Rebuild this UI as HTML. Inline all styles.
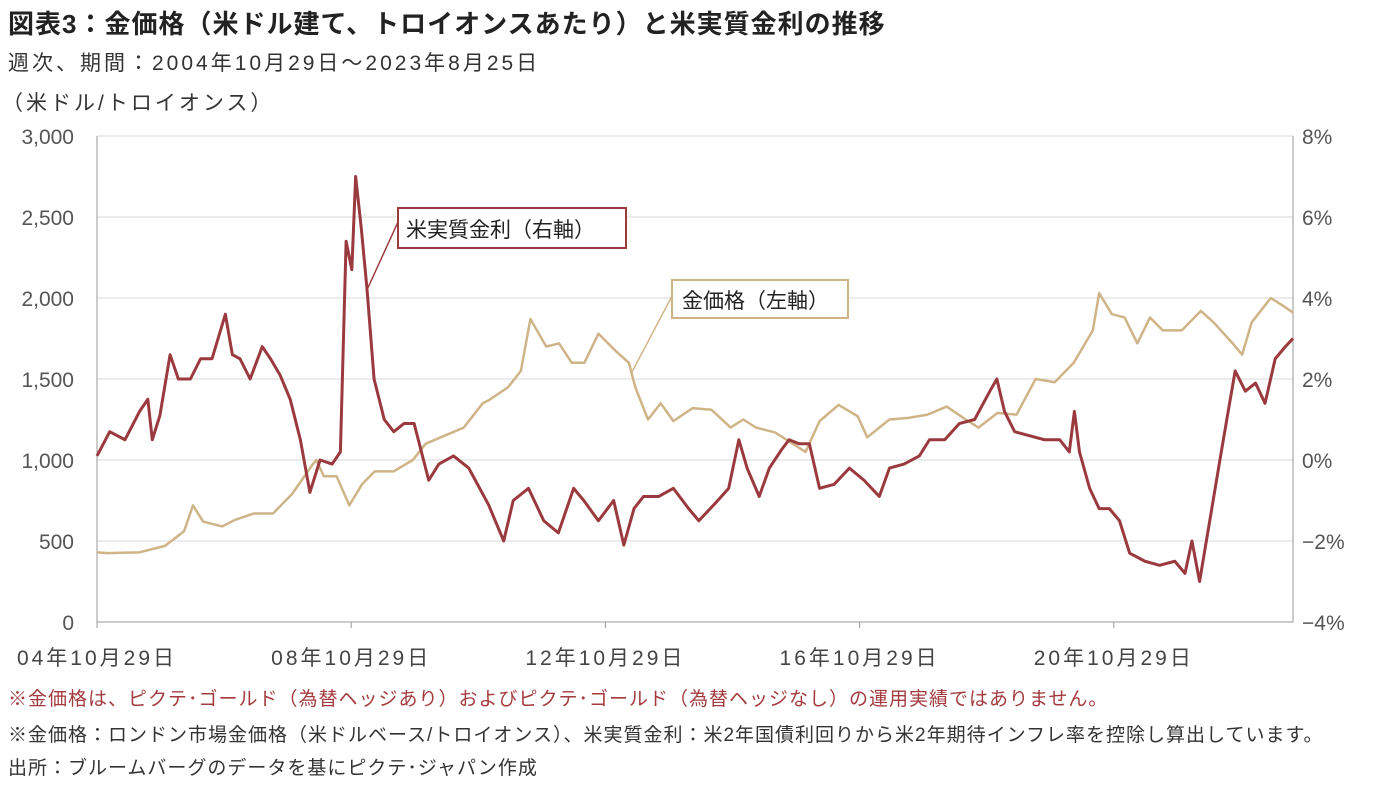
<!DOCTYPE html>
<html><head><meta charset="utf-8"><style>
body{margin:0;background:#fff;font-family:"Liberation Sans","Noto Sans CJK JP",sans-serif;}
#wrap{position:relative;width:1399px;height:790px;overflow:hidden}
.t{position:absolute;white-space:nowrap;color:#333}
</style></head><body><div id="wrap">
<div class="t" style="left:8px;top:4px;font-size:26px;letter-spacing:1px;font-weight:bold;color:#222">図表3：金価格（米ドル建て、トロイオンスあたり）と米実質金利の推移</div>
<div class="t" style="left:8px;top:47px;font-size:21px;letter-spacing:3px">週次、期間：2004年10月29日～2023年8月25日</div>
<div class="t" style="left:2px;top:87px;font-size:21px;letter-spacing:3px">（米ドル/トロイオンス）</div>
<svg id="c" width="1399" height="790" style="position:absolute;left:0;top:0"></svg>
<div class="t" style="left:8px;top:684px;font-size:19px;letter-spacing:1px;color:#a33b3e">※金価格は、ピクテ･ゴールド（為替ヘッジあり）およびピクテ･ゴールド（為替ヘッジなし）の運用実績ではありません。</div>
<div class="t" style="left:8px;top:720px;font-size:19px;letter-spacing:1px">※金価格：ロンドン市場金価格（米ドルベース/トロイオンス）、米実質金利：米2年国債利回りから米2年期待インフレ率を控除し算出しています。</div>
<div class="t" style="left:8px;top:753px;font-size:19px;letter-spacing:1px">出所：ブルームバーグのデータを基にピクテ･ジャパン作成</div>
</div>
<script>
const goldDates=[2004.83,2005.0,2005.5,2005.9,2006.2,2006.34,2006.5,2006.8,2007.0,2007.3,2007.6,2007.9,2008.2,2008.28,2008.4,2008.6,2008.8,2009.0,2009.2,2009.5,2009.8,2010.0,2010.3,2010.6,2010.9,2011.0,2011.3,2011.5,2011.65,2011.9,2012.1,2012.3,2012.5,2012.72,2013.0,2013.2,2013.3,2013.5,2013.7,2013.9,2014.2,2014.5,2014.8,2015.0,2015.2,2015.5,2015.98,2016.2,2016.5,2016.8,2016.95,2017.3,2017.6,2017.9,2018.2,2018.5,2018.7,2019.0,2019.3,2019.6,2019.9,2020.2,2020.5,2020.6,2020.8,2021.0,2021.2,2021.4,2021.6,2021.9,2022.2,2022.4,2022.7,2022.85,2023.0,2023.3,2023.5,2023.65];
const goldValues=[430,425,430,470,560,720,620,590,630,670,670,790,960,1000,900,900,720,850,930,930,1000,1100,1150,1200,1350,1370,1450,1550,1870,1700,1720,1600,1600,1780,1670,1600,1450,1250,1350,1240,1320,1310,1200,1250,1200,1170,1050,1240,1340,1270,1140,1250,1260,1280,1330,1250,1200,1290,1280,1500,1480,1600,1800,2030,1900,1880,1720,1880,1800,1800,1920,1850,1720,1650,1850,2000,1950,1910];
const rateDates=[2004.83,2005.03,2005.27,2005.5,2005.63,2005.7,2005.82,2005.98,2006.11,2006.3,2006.46,2006.64,2006.85,2006.96,2007.08,2007.24,2007.43,2007.56,2007.71,2007.87,2008.03,2008.18,2008.34,2008.53,2008.66,2008.75,2008.84,2008.9,2008.99,2009.08,2009.19,2009.35,2009.5,2009.66,2009.82,2010.05,2010.21,2010.44,2010.68,2010.99,2011.23,2011.38,2011.62,2011.86,2012.09,2012.33,2012.49,2012.72,2012.96,2013.12,2013.28,2013.43,2013.67,2013.9,2014.14,2014.3,2014.54,2014.77,2014.93,2015.06,2015.25,2015.41,2015.6,2015.72,2015.88,2016.04,2016.2,2016.43,2016.67,2016.9,2017.14,2017.3,2017.53,2017.77,2017.93,2018.17,2018.4,2018.64,2018.88,2018.99,2019.11,2019.27,2019.5,2019.74,2019.98,2020.13,2020.21,2020.29,2020.45,2020.6,2020.76,2020.92,2021.08,2021.32,2021.55,2021.79,2021.95,2022.06,2022.18,2022.34,2022.5,2022.63,2022.74,2022.9,2023.06,2023.21,2023.37,2023.53,2023.65];
const rateValues=[0.1,0.7,0.5,1.2,1.5,0.5,1.1,2.6,2.0,2.0,2.5,2.5,3.6,2.6,2.5,2.0,2.8,2.5,2.1,1.5,0.5,-0.8,0.0,-0.1,0.2,5.4,4.7,7.0,5.7,4.2,2.0,1.0,0.7,0.9,0.9,-0.5,-0.1,0.1,-0.2,-1.1,-2.0,-1.0,-0.7,-1.5,-1.8,-0.7,-1.0,-1.5,-1.0,-2.1,-1.2,-0.9,-0.9,-0.7,-1.2,-1.5,-1.1,-0.7,0.5,-0.2,-0.9,-0.2,0.25,0.5,0.4,0.4,-0.7,-0.6,-0.2,-0.5,-0.9,-0.2,-0.1,0.1,0.5,0.5,0.9,1.0,1.7,2.0,1.2,0.7,0.6,0.5,0.5,0.2,1.2,0.2,-0.7,-1.2,-1.2,-1.5,-2.3,-2.5,-2.6,-2.5,-2.8,-2.0,-3.0,-1.5,0.0,1.2,2.2,1.7,1.9,1.4,2.5,2.8,3.0];
const leftTicks=[0,500,1000,1500,2000,2500,3000];
const leftTickLabels=["0","500","1,000","1,500","2,000","2,500","3,000"];
const rightTicks=[-4,-2,0,2,4,6,8];
const rightTickLabels=["−4%","−2%","0%","2%","4%","6%","8%"];
const xTicks=[2004.83,2008.83,2012.83,2016.83,2020.83];
const xTickLabels=["04年10月29日","08年10月29日","12年10月29日","16年10月29日","20年10月29日"];

const X0=97,X1=1293,Y0=622,Y1=136,T0=2004.83,T1=2023.65;
const xs=t=>X0+(t-T0)/(T1-T0)*(X1-X0);
const yl=v=>Y0-v/3000*(Y0-Y1);
const yr=v=>Y0-(v+4)/12*(Y0-Y1);
const svg=document.getElementById('c');const NS='http://www.w3.org/2000/svg';
function mk(tag,attrs){const e=document.createElementNS(NS,tag);for(const k in attrs)e.setAttribute(k,attrs[k]);svg.appendChild(e);return e;}
leftTicks.forEach((v,i)=>{
 if(v>0){const g=mk('line',{x1:X0,x2:X1,y1:yl(v),y2:yl(v),stroke:'#d9d9d9','stroke-width':1});
 
 }
 const t=mk('text',{x:74,y:yl(v)+8,'text-anchor':'end','font-size':21,fill:'#555','font-family':'Liberation Sans, sans-serif'});t.textContent=leftTickLabels[i];
 
 
});
rightTicks.forEach((v,i)=>{
 const t=mk('text',{x:1302,y:yr(v)+8,'font-size':21,fill:'#555','font-family':'Liberation Sans, sans-serif'});t.textContent=rightTickLabels[i];
 
 
});
let a=mk('line',{x1:X0,x2:X0,y1:Y1,y2:Y0,stroke:'#999'});
a=mk('line',{x1:X1,x2:X1,y1:Y1,y2:Y0,stroke:'#999'});
a=mk('line',{x1:X0,x2:X1,y1:Y0,y2:Y0,stroke:'#999'});
xTicks.forEach((t,i)=>{
 const l=mk('line',{x1:xs(t),x2:xs(t),y1:Y0,y2:Y0+6,stroke:'#999'});
 
 
 const tx=mk('text',{x:xs(t),y:665,'text-anchor':'middle','font-size':21,'letter-spacing':3,fill:'#444','font-family':'Liberation Sans, Noto Sans CJK JP, sans-serif'});tx.textContent=xTickLabels[i];
 
 
});
let p=mk('polyline',{points:goldDates.map((d,i)=>xs(d)+','+yl(goldValues[i])).join(' '),fill:'none',stroke:'#cfb488','stroke-width':2.5,'stroke-linejoin':'round'});

p=mk('polyline',{points:rateDates.map((d,i)=>xs(d)+','+yr(rateValues[i])).join(' '),fill:'none',stroke:'#9b3a3e','stroke-width':3,'stroke-linejoin':'round'});

a=mk('line',{x1:398,y1:222,x2:366,y2:292,stroke:'#9b3a3e','stroke-width':1.5});
a=mk('rect',{x:398,y:208,width:228,height:40,fill:'#fff',stroke:'#9b3a3e','stroke-width':2});
a=mk('text',{x:406,y:237,'font-size':21,fill:'#222','font-family':'Liberation Sans, Noto Sans CJK JP, sans-serif'});a.textContent='米実質金利（右軸）';
a=mk('line',{x1:672,y1:296,x2:632,y2:372,stroke:'#cfb488','stroke-width':1.5});
a=mk('rect',{x:672,y:280,width:176,height:38,fill:'#fff',stroke:'#cfb488','stroke-width':2});
a=mk('text',{x:682,y:308,'font-size':21,fill:'#222','font-family':'Liberation Sans, Noto Sans CJK JP, sans-serif'});a.textContent='金価格（左軸）';
</script></body></html>
